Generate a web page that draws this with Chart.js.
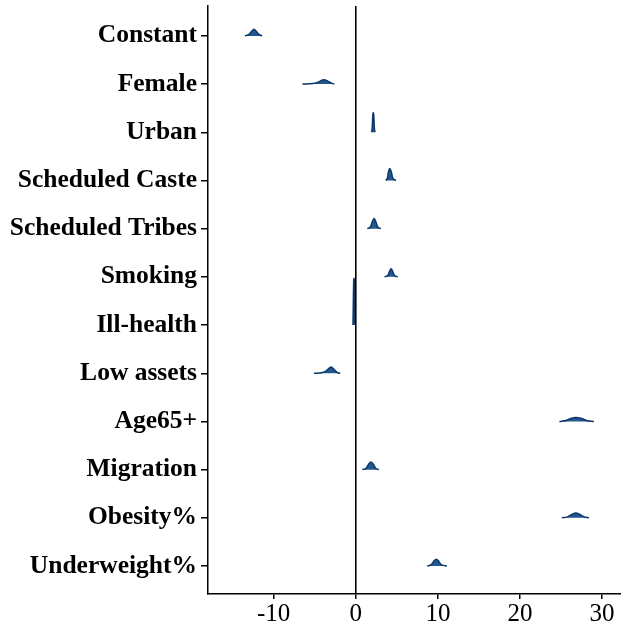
<!DOCTYPE html>
<html lang="en">
  <head>
    <meta charset="UTF-8" />
    <title>Coefficient densities</title>
    <script src="https://cdn.jsdelivr.net/npm/chart.js@4.4.0/dist/chart.umd.min.js"></script>
    <style>
      html, body { margin: 0; padding: 0; background: #fff; }
      .chart-view { width: 621px; height: 626px; }
    </style>
  </head>
  <body>
    <div class="chart-view">
      <canvas id="chart"></canvas>
    </div>

    <script>
      //data
      const labels = ['Constant', 'Female', 'Urban', 'Scheduled Caste', 'Scheduled Tribes', 'Smoking',
        'Ill-health', 'Low assets', 'Age65+', 'Migration', 'Obesity%', 'Underweight%'];
      const xTicks = [-10, 0, 10, 20, 30];

      // density outline per variable: x positions and scaled density height (row = 1)
      const constantX = [-13.5, -13.0, -12.7, -12.4, -12.1, -11.8, -11.4];
      const constantH = [0, 0.03, 0.09, 0.14, 0.09, 0.03, 0];
      const femaleX = [-6.5, -5.2, -4.6, -3.9, -3.3, -2.9, -2.6];
      const femaleH = [0, 0.01, 0.04, 0.09, 0.05, 0.015, 0];
      const urbanX = [1.93, 2.0, 2.07, 2.13, 2.19, 2.26, 2.33];
      const urbanH = [0, 0.1, 0.35, 0.41, 0.35, 0.1, 0];
      const casteX = [3.65, 3.85, 3.98, 4.15, 4.32, 4.5, 4.9];
      const casteH = [0, 0.05, 0.18, 0.25, 0.18, 0.05, 0];
      const tribesX = [1.4, 1.8, 2.0, 2.24, 2.45, 2.65, 3.05];
      const tribesH = [0, 0.04, 0.14, 0.21, 0.14, 0.04, 0];
      const smokingX = [3.5, 3.9, 4.1, 4.3, 4.5, 4.7, 5.1];
      const smokingH = [0, 0.03, 0.11, 0.17, 0.11, 0.03, 0];
      const illX = [-0.34, -0.3, -0.26, -0.22, -0.18, -0.14, -0.1];
      const illH = [0, 0.5, 0.9, 0.97, 0.9, 0.5, 0];
      const assetsX = [-5.1, -4.2, -3.6, -3.0, -2.6, -2.3, -1.9];
      const assetsH = [0, 0.01, 0.05, 0.13, 0.07, 0.02, 0];
      const ageX = [24.8, 25.6, 26.2, 26.8, 27.5, 28.1, 29.0];
      const ageH = [0, 0.02, 0.06, 0.08, 0.06, 0.02, 0];
      const migrationX = [0.8, 1.25, 1.55, 1.85, 2.15, 2.4, 2.8];
      const migrationH = [0, 0.03, 0.11, 0.16, 0.11, 0.03, 0];
      const obesityX = [25.1, 25.8, 26.3, 26.8, 27.3, 27.8, 28.4];
      const obesityH = [0, 0.02, 0.07, 0.1, 0.07, 0.02, 0];
      const underX = [8.7, 9.2, 9.5, 9.8, 10.1, 10.4, 11.1];
      const underH = [0, 0.03, 0.1, 0.14, 0.1, 0.03, 0];

      const densities = [
        [constantX, constantH], [femaleX, femaleH], [urbanX, urbanH], [casteX, casteH],
        [tribesX, tribesH], [smokingX, smokingH], [illX, illH], [assetsX, assetsH],
        [ageX, ageH], [migrationX, migrationH], [obesityX, obesityH], [underX, underH]
      ];

      const FILL = '#24578f';
      const LINE = '#0c3868';

      const data = {
        datasets: densities.map(([xs, hs], row) => ({
          label: labels[row],
          data: xs.map((x, k) => ({ x: x, y: row - hs[k] })),
          showLine: true,
          pointRadius: 0,
          borderColor: LINE,
          borderWidth: 1.5,
          backgroundColor: FILL,
          cubicInterpolationMode: 'monotone',
          fill: { value: row }
        }))
      };

      // vertical reference line at zero
      const zeroLine = {
        id: 'zeroLine',
        afterDatasetsDraw(chart) {
          const { ctx, chartArea, scales } = chart;
          const x = scales.x.getPixelForValue(0);
          ctx.save();
          ctx.strokeStyle = '#000';
          ctx.lineWidth = 1.6;
          ctx.beginPath();
          ctx.moveTo(x, chartArea.top);
          ctx.lineTo(x, chartArea.bottom);
          ctx.stroke();
          ctx.restore();
        }
      };

      //config
      const config = {
        type: 'scatter',
        data: data,
        options: {
          responsive: true,
          maintainAspectRatio: false,
          animation: false,
          layout: { padding: { top: 6, right: 0, left: 0, bottom: 0 } },
          plugins: {
            legend: { display: false },
            tooltip: { enabled: false }
          },
          scales: {
            x: {
              type: 'linear',
              min: -18,
              max: 32.3,
              afterBuildTicks: (scale) => {
                scale.ticks = xTicks.map((v) => ({ value: v }));
              },
              afterFit: (scale) => {
                scale.height = 32;
                scale.paddingLeft = 0;
                scale.paddingRight = 0;
              },
              ticks: {
                color: '#000',
                padding: 0,
                maxRotation: 0,
                font: { family: '"Liberation Serif", "Times New Roman", serif', size: 25 },
                callback: (v) => String(v)
              },
              grid: { drawOnChartArea: false, drawTicks: true, tickLength: 5, color: '#000', lineWidth: 1.5 },
              border: { display: true, color: '#000', width: 1.5 }
            },
            y: {
              type: 'linear',
              reverse: true,
              min: -0.62,
              max: 11.58,
              afterBuildTicks: (scale) => {
                scale.ticks = labels.map((l, i) => ({ value: i }));
              },
              afterFit: (scale) => {
                scale.width = 208;
                scale.paddingTop = 0;
                scale.paddingBottom = 0;
              },
              ticks: {
                color: '#000',
                padding: 4,
                font: { family: '"Liberation Serif", "Times New Roman", serif', size: 25.5, weight: 'bold' },
                callback: (v) => labels[v]
              },
              grid: { drawOnChartArea: false, drawTicks: true, tickLength: 7, color: '#000', lineWidth: 1.5 },
              border: { display: true, color: '#000', width: 1.5 }
            }
          }
        },
        plugins: [zeroLine]
      };

      //init
      const ctx = document.getElementById('chart');
      const chart = new Chart(ctx, config);
    </script>
  </body>
</html>
